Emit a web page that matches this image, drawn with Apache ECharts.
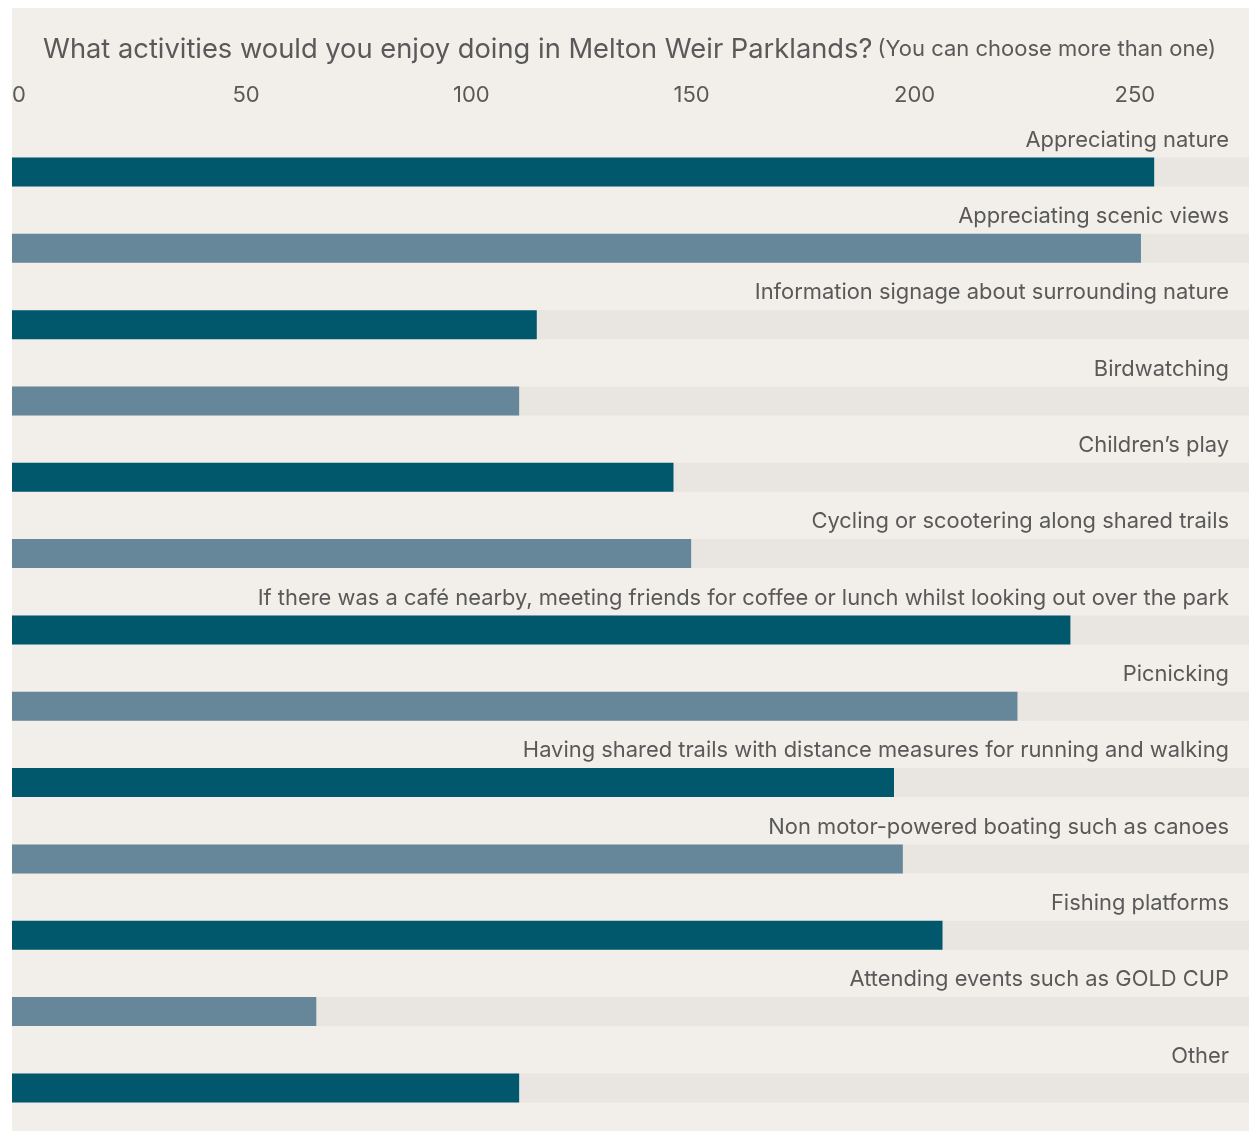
<!DOCTYPE html>
<html>
<head>
<meta charset="utf-8">
<script src="https://cdn.jsdelivr.net/npm/echarts@6/dist/echarts.min.js"></script>
<style>
  html, body { margin: 0; padding: 0; background: #ffffff; }
  #chart { position: absolute; left: 12px; top: 8px; width: 1237px; height: 1123px; background: #f2efea; }
</style>
</head>
<body>
<div id="chart"></div>
<script>
const categories = [
  'Appreciating nature',
  'Appreciating scenic views',
  'Information signage about surrounding nature',
  'Birdwatching',
  'Children\u2019s play',
  'Cycling or scootering along shared trails',
  'If there was a caf\u00e9 nearby, meeting friends for coffee or lunch whilst looking out over the park',
  'Picnicking',
  'Having shared trails with distance measures for running and walking',
  'Non motor-powered boating such as canoes',
  'Fishing platforms',
  'Attending events such as GOLD CUP',
  'Other'
];
const responses = [259, 256, 119, 115, 150, 154, 240, 228, 200, 202, 211, 69, 115];
const titleMain = 'What activities would you enjoy doing in Melton Weir Parklands?';
const titleSub = '(You can choose more than one)';
const axisMax = 280.5;

const FONT = 'Inter';
const TEXT = '#595959';
const DARK = '#01586d';
const LIGHT = '#66869a';

const chart = echarts.init(document.getElementById('chart'), null, { renderer: 'canvas' });
chart.setOption({
  animation: false,
  backgroundColor: 'transparent',
  textStyle: { fontFamily: FONT },
  title: {
    left: 26,
    top: 23,
    text: '{a|' + titleMain + '} {b|' + titleSub + '}',
    textStyle: {
      fontWeight: 'normal',
      rich: {
        a: { fontFamily: FONT, fontSize: 27.3, fontWeight: 'normal', color: TEXT },
        b: { fontFamily: FONT, fontSize: 22, fontWeight: 'normal', color: TEXT }
      }
    }
  },
  grid: { left: 0, right: 0, top: 125.8, height: 992.3, containLabel: false, outerBoundsMode: 'none' },
  xAxis: {
    type: 'value',
    position: 'top',
    min: 0,
    max: axisMax,
    interval: 50,
    axisLine: { show: false },
    axisTick: { show: false },
    splitLine: { show: false },
    axisLabel: {
      align: 'left',
      margin: 27,
      fontSize: 22,
      color: TEXT,
      fontFamily: FONT,
      showMaxLabel: false
    }
  },
  yAxis: {
    type: 'category',
    inverse: true,
    position: 'right',
    data: categories,
    axisLine: { show: false },
    axisTick: { show: false },
    splitLine: { show: false },
    axisLabel: {
      show: true,
      interval: 0,
      inside: true,
      margin: 20,
      align: 'right',
      verticalAlign: 'bottom',
      padding: [0, 0, 21, 0],
      fontSize: 21.9,
      color: TEXT,
      fontFamily: FONT
    }
  },
  series: [{
    type: 'bar',
    data: responses,
    barWidth: 29,
    showBackground: true,
    backgroundStyle: { color: '#e9e5e0' },
    itemStyle: {
      color: function (p) { return p.dataIndex % 2 === 0 ? DARK : LIGHT; }
    }
  }]
});
</script>
</body>
</html>
